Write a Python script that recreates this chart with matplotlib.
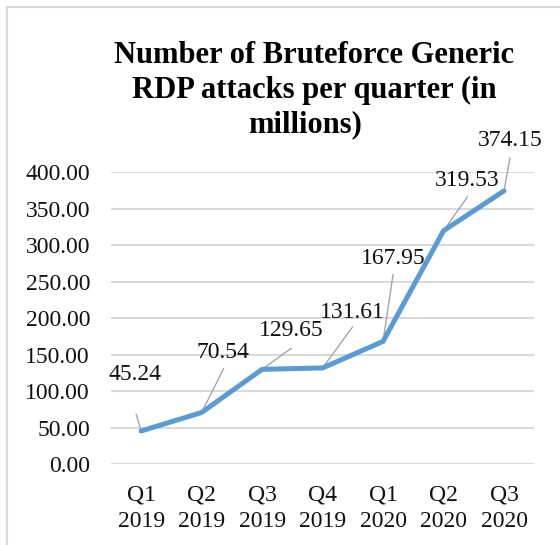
import matplotlib
matplotlib.use("Agg")
import matplotlib.pyplot as plt
from matplotlib.patches import Rectangle

quarters = ["Q1\n2019", "Q2\n2019", "Q3\n2019", "Q4\n2019", "Q1\n2020", "Q2\n2020", "Q3\n2020"]
attacks = [45.24, 70.54, 129.65, 131.61, 167.95, 319.53, 374.15]
title_lines = ["Number of Bruteforce Generic", "RDP attacks per quarter (in", "millions)"]

# where each value label sits and where its leader line starts (pixels from the point)
label_offsets = [(-6, 56), (21, 60), (29, 39), (30, 55), (10, 83), (24, 50), (6, 50)]
leader_starts = [(-5, 17), (22, 44), (29, 21), (30, 41), (10, 67), (24, 34), (6, 33)]

plt.rcParams["font.family"] = ["Liberation Serif", "DejaVu Serif"]

fig = plt.figure(figsize=(5.6, 5.45), dpi=100)
ax = fig.add_axes([0.198, 0.1486, 0.756, 0.5358])

x = list(range(len(quarters)))
ax.plot(x, attacks, color="#5B9BD5", lw=3.6, solid_joinstyle="round",
        solid_capstyle="round", clip_on=False, zorder=3)

for i, v in enumerate(attacks):
    ax.annotate("", xy=(i, v), xytext=leader_starts[i], textcoords="offset pixels",
                arrowprops=dict(arrowstyle="-", color="#A5A5A5", lw=1.0,
                                shrinkA=0, shrinkB=2),
                annotation_clip=False, zorder=2)
    ax.annotate(f"{v:.2f}", xy=(i, v), xytext=label_offsets[i], textcoords="offset pixels",
                ha="center", va="center", fontsize=17, color="#111111",
                annotation_clip=False, zorder=4)

ax.set_xlim(-0.5, len(quarters) - 0.5)
ax.set_ylim(0, 400)
ax.set_yticks(range(0, 401, 50))
ax.set_yticklabels([f"{t:.2f}" for t in range(0, 401, 50)])
ax.set_xticks(x)
ax.set_xticklabels(quarters, linespacing=1.3)
ax.tick_params(axis="both", length=0, labelsize=17, colors="#111111")
ax.tick_params(axis="y", pad=15)
ax.tick_params(axis="x", pad=15)
ax.grid(axis="y", color="#D9D9D9", lw=1.5)
ax.set_axisbelow(True)
for s in ax.spines.values():
    s.set_visible(False)

# title, one text per line
for line, xc, yb in zip(title_lines, [0.561, 0.562, 0.545], [0.8844, 0.8202, 0.7578]):
    fig.text(xc, yb, line, ha="center", va="baseline", fontsize=22, fontweight="bold")

# chart area border
fig.patches.append(Rectangle((7 / 560, -0.1), 1.2, 1.1 - 7 / 545, transform=fig.transFigure,
                             fill=False, edgecolor="#D9D9D9", lw=1.5))

fig.savefig("out.png", dpi=100)
